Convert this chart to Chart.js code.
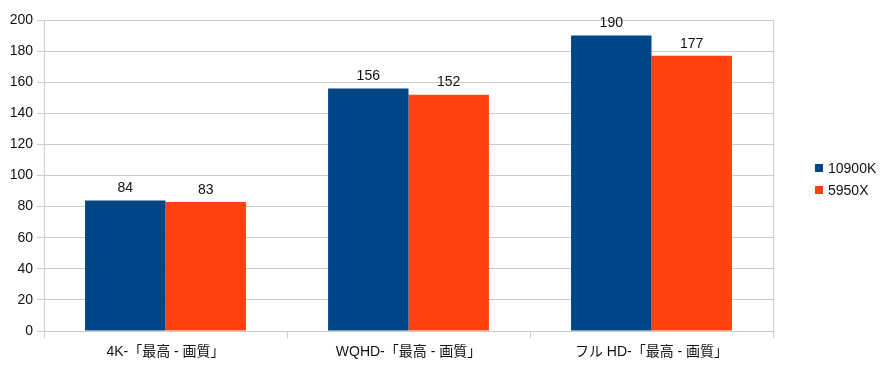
<!DOCTYPE html>
<html>
<head>
<meta charset="utf-8">
<script src="https://cdn.jsdelivr.net/npm/chart.js@4/dist/chart.umd.min.js"></script>
<style>
  html, body { margin: 0; padding: 0; background: #fff; }
  #wrap { width: 887px; height: 368px; }
</style>
</head>
<body>
<div id="wrap"><canvas id="myChart" width="887" height="368"></canvas></div>
<script>
const categories = ['4K-「最高 - 画質」', 'WQHD-「最高 - 画質」', 'フル HD-「最高 - 画質」'];
const series10900k = [84, 156, 190];
const series5950x = [83, 152, 177];
const seriesNames = ['10900K', '5950X'];
const colors = ['#004586', '#ff420e'];

const FONT = '"Liberation Sans", Arial, "Noto Sans CJK JP", sans-serif';
const gridColor = '#cccccc';

const valueLabels = {
  id: 'valueLabels',
  afterDatasetsDraw(chart) {
    const ctx = chart.ctx;
    ctx.save();
    ctx.font = '14px ' + FONT;
    ctx.fillStyle = '#111';
    ctx.textAlign = 'center';
    ctx.textBaseline = 'bottom';
    chart.data.datasets.forEach((ds, i) => {
      chart.getDatasetMeta(i).data.forEach((bar, j) => {
        ctx.fillText(ds.data[j], bar.x, bar.y - 5);
      });
    });
    ctx.restore();
  }
};

const frameAndLegend = {
  id: 'frameAndLegend',
  afterDraw(chart) {
    const ctx = chart.ctx;
    const a = chart.chartArea;
    ctx.save();
    ctx.strokeStyle = gridColor;
    ctx.lineWidth = 1;
    ctx.beginPath();
    ctx.moveTo(Math.round(a.right) + 0.5, a.top);
    ctx.lineTo(Math.round(a.right) + 0.5, a.bottom);
    ctx.stroke();
    // legend
    ctx.font = '14px ' + FONT;
    ctx.textBaseline = 'middle';
    ctx.textAlign = 'left';
    seriesNames.forEach((name, i) => {
      const y = 168 + i * 22;
      ctx.fillStyle = colors[i];
      ctx.fillRect(815, y - 4, 8, 8);
      ctx.fillStyle = '#111';
      ctx.fillText(name, 828, y + 1);
    });
    ctx.restore();
  }
};

new Chart(document.getElementById('myChart').getContext('2d'), {
  type: 'bar',
  data: {
    labels: categories,
    datasets: [
      { label: seriesNames[0], data: series10900k, backgroundColor: colors[0] },
      { label: seriesNames[1], data: series5950x, backgroundColor: colors[1] }
    ]
  },
  options: {
    responsive: false,
    animation: false,
    layout: { padding: { top: 20, right: 114, left: 0, bottom: 0 } },
    plugins: { legend: { display: false }, tooltip: { enabled: false } },
    datasets: { bar: { categoryPercentage: 0.662, barPercentage: 1.0 } },
    scales: {
      x: {
        offset: true,
        grid: { offset: true, drawOnChartArea: false, drawTicks: true, tickLength: 7, color: gridColor },
        border: { color: gridColor },
        ticks: { color: '#111', font: { size: 14, family: FONT }, padding: 6, maxRotation: 0 },
        afterFit(s) { s.height = 37; }
      },
      y: {
        min: 0, max: 200,
        grid: { color: gridColor, tickLength: 7, drawTicks: true },
        border: { color: gridColor },
        ticks: { stepSize: 20, color: '#111', font: { size: 14, family: FONT }, padding: 4 },
        afterFit(s) { s.width = 44; }
      }
    }
  },
  plugins: [valueLabels, frameAndLegend]
});
</script>
</body>
</html>
